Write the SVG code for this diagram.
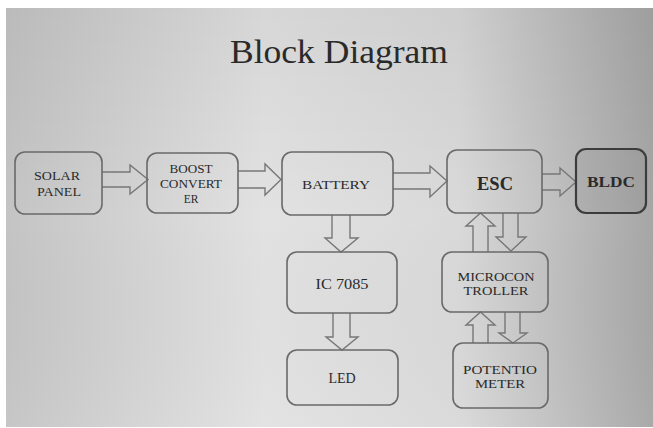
<svg xmlns="http://www.w3.org/2000/svg" width="653" height="428" viewBox="0 0 653 428">
  <defs>
    <linearGradient id="paper" x1="0" y1="0" x2="1" y2="0">
      <stop offset="0" stop-color="#c4c4c4"/>
      <stop offset="0.4" stop-color="#e2e2e2"/>
      <stop offset="0.7" stop-color="#d9d9d9"/>
      <stop offset="1" stop-color="#a6a6a6"/>
    </linearGradient>
    <linearGradient id="shade" x1="0" y1="0" x2="0" y2="1">
      <stop offset="0" stop-color="#000" stop-opacity="0.05"/>
      <stop offset="0.5" stop-color="#000" stop-opacity="0"/>
      <stop offset="1" stop-color="#fff" stop-opacity="0.04"/>
    </linearGradient>
    <style>
      .box { fill: none; stroke: #6a6a6a; stroke-width: 1.6; }
      .box.dark { fill: #000; fill-opacity: 0.05; stroke: #3c3c3c; stroke-width: 2.2; }
      .lbl { font-family: "Liberation Serif", "Times New Roman", serif; fill: #2a2a2a; text-anchor: middle; }
      .sm { font-size: 11.5px; }
      .md { font-size: 12.5px; }
      .bold { font-weight: bold; }
      .arrow { fill: none; stroke: #777; stroke-width: 1.4; stroke-linejoin: miter; }
    </style>
  </defs>

  <!-- page -->
  <rect x="0" y="0" width="653" height="428" fill="#ffffff"/>
  <rect x="6" y="8" width="647" height="419" fill="url(#paper)"/>
  <rect x="6" y="8" width="647" height="419" fill="url(#shade)"/>

  <text class="lbl" x="339" y="63" font-size="34" textLength="218" lengthAdjust="spacingAndGlyphs" fill="#141414">Block Diagram</text>

  <!-- connectors: hollow block arrows -->
  <g id="connectors">
    <path class="arrow" d="M102,172 H130 V165 L148,179.5 L130,194 V187 H102"/>
    <path class="arrow" d="M238,171 H265 V164 L281,179.5 L265,195 V188 H238"/>
    <path class="arrow" d="M393,173 H430 V166 L447,181 L430,197 V189 H393"/>
    <path class="arrow" d="M542,174 H560 V168 L576,182 L560,196 V190 H542"/>
    <path class="arrow" d="M332,215 V238 H325 L341,252 L358,238 H350 V215"/>
    <path class="arrow" d="M333,313 V337 H326 L342,350 L358,337 H350 V313"/>
    <path class="arrow" d="M503,213 V237 H496 L511,251 L526,237 H518 V213"/>
    <path class="arrow" d="M473,252 V226 H466 L480.5,213 L495,226 H488 V252"/>
    <path class="arrow" d="M505,312 V333 H499 L513,343 L527,333 H520 V312"/>
    <path class="arrow" d="M473,343 V325 H466 L480.5,312 L495,325 H488 V343"/>
  </g>

  <g id="solar-panel">
    <rect class="box" x="15" y="152" width="87" height="62" rx="10"/>
    <text class="lbl sm" x="57" y="180" textLength="46" lengthAdjust="spacingAndGlyphs">SOLAR</text>
    <text class="lbl sm" x="59" y="196" textLength="44" lengthAdjust="spacingAndGlyphs">PANEL</text>
  </g>

  <g id="boost-converter">
    <rect class="box" x="147" y="153" width="91" height="60" rx="10"/>
    <text class="lbl sm" x="191" y="173" textLength="43" lengthAdjust="spacingAndGlyphs">BOOST</text>
    <text class="lbl sm" x="191" y="188" textLength="62" lengthAdjust="spacingAndGlyphs">CONVERT</text>
    <text class="lbl sm" x="191" y="203">ER</text>
  </g>

  <g id="battery">
    <rect class="box" x="282" y="152" width="111" height="63" rx="10"/>
    <text class="lbl" x="336" y="189" font-size="13.5" textLength="68" lengthAdjust="spacingAndGlyphs">BATTERY</text>
  </g>

  <g id="esc">
    <rect class="box" x="447" y="150" width="95" height="63" rx="10"/>
    <text class="lbl bold" x="495" y="190" font-size="18" textLength="36" lengthAdjust="spacingAndGlyphs">ESC</text>
  </g>

  <g id="bldc">
    <rect class="box dark" x="576" y="149" width="70" height="64" rx="10"/>
    <text class="lbl bold" x="611" y="187" font-size="15" textLength="48" lengthAdjust="spacingAndGlyphs">BLDC</text>
  </g>

  <g id="ic-7085">
    <rect class="box" x="287" y="252" width="110" height="61" rx="10"/>
    <text class="lbl" x="342" y="289" font-size="15" textLength="53" lengthAdjust="spacingAndGlyphs">IC 7085</text>
  </g>

  <g id="led">
    <rect class="box" x="287" y="350" width="111" height="55" rx="10"/>
    <text class="lbl" x="342" y="383" font-size="14">LED</text>
  </g>

  <g id="microcontroller">
    <rect class="box" x="442" y="252" width="106" height="60" rx="10"/>
    <text class="lbl md" x="496" y="281" textLength="77" lengthAdjust="spacingAndGlyphs">MICROCON</text>
    <text class="lbl md" x="496" y="295" textLength="65" lengthAdjust="spacingAndGlyphs">TROLLER</text>
  </g>

  <g id="potentiometer">
    <rect class="box" x="453" y="343" width="95" height="65" rx="10"/>
    <text class="lbl md" x="500" y="374" textLength="74" lengthAdjust="spacingAndGlyphs">POTENTIO</text>
    <text class="lbl md" x="500" y="388" textLength="50" lengthAdjust="spacingAndGlyphs">METER</text>
  </g>
</svg>
